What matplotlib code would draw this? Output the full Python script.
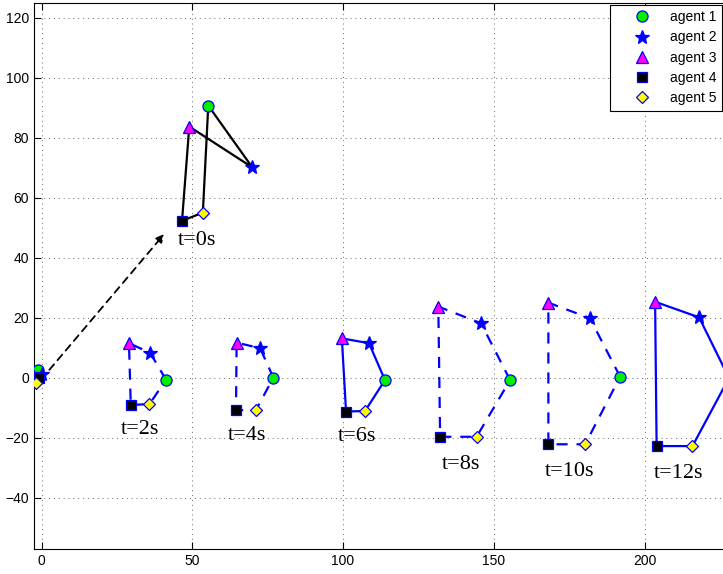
import matplotlib.pyplot as plt

# formation snapshots: t=0s, 2s, 4s, 6s, 8s, 10s, 12s
snap_labels = ["t=0s", "t=2s", "t=4s", "t=6s", "t=8s", "t=10s", "t=12s"]
snap_styles = ["solid", "dashed", "dashed", "solid", "dashed", "dashed", "solid"]
snap_colors = ["black", "blue", "blue", "blue", "blue", "blue", "blue"]
label_x = [51.5, 32.6, 68.2, 104.5, 139.0, 175.0, 211.4]
label_y = [45.8, -17.3, -19.3, -19.6, -28.7, -31.2, -31.8]

agent1_x = [55.3, 41.3, 76.9, 113.9, 155.4, 191.9, 228.0]
agent1_y = [90.8, -0.6, 0.1, -0.7, -0.7, 0.4, 0.0]
agent2_x = [69.9, 36.0, 72.5, 108.6, 145.8, 181.9, 218.1]
agent2_y = [70.2, 8.4, 9.9, 11.6, 18.2, 19.9, 20.2]
agent3_x = [49.0, 29.0, 64.7, 99.6, 131.6, 168.1, 203.5]
agent3_y = [83.8, 11.6, 11.8, 13.2, 23.8, 25.1, 25.4]
agent4_x = [46.6, 29.6, 64.5, 101.0, 132.2, 168.1, 204.0]
agent4_y = [52.4, -9.0, -10.7, -11.2, -19.6, -22.1, -22.7]
agent5_x = [53.5, 35.8, 71.1, 107.3, 144.3, 180.3, 215.9]
agent5_y = [55.1, -8.7, -10.7, -11.0, -19.6, -22.1, -22.7]

# starting positions near the origin
init_x = [-1.3, 0.0, -3.3, -1.0, -1.8]
init_y = [2.7, 1.2, 1.8, 0.0, -1.6]

xs = [agent1_x, agent2_x, agent3_x, agent4_x, agent5_x]
ys = [agent1_y, agent2_y, agent3_y, agent4_y, agent5_y]
markers = ["o", "*", "^", "s", "D"]
faces = ["#00ee00", "blue", "magenta", "black", "yellow"]
sizes = [8, 10, 8, 6.5, 6]

plt.rcParams['font.family'] = ['Liberation Sans', 'DejaVu Sans']

fig = plt.figure(figsize=(7.23, 5.74), dpi=100)
ax = fig.add_axes([0.0466, 0.0436, 0.97, 0.9512])

# arrow from the start to the first formation
ax.annotate("", xy=(41.3, 48.7), xytext=(2.0, 2.0),
            arrowprops=dict(arrowstyle="-|>", color="black", lw=1.3,
                            linestyle=(0, (4, 3)), mutation_scale=12))

for k in range(len(snap_labels)):
    px = [xs[i][k] for i in range(5)] + [xs[0][k]]
    py = [ys[i][k] for i in range(5)] + [ys[0][k]]
    ls = "-" if snap_styles[k] == "solid" else (0, (5, 4))
    ax.plot(px, py, color=snap_colors[k], linestyle=ls, lw=1.6, zorder=2)
    ax.text(label_x[k], label_y[k], snap_labels[k], ha="center", va="center",
            fontsize=16, family="Liberation Serif", zorder=4)

for i in range(5):
    ax.plot(xs[i] + [init_x[i]], ys[i] + [init_y[i]], linestyle="none",
            marker=markers[i], markersize=sizes[i], markerfacecolor=faces[i],
            markeredgecolor="blue", markeredgewidth=0.9, color="blue",
            label="agent %d" % (i + 1), zorder=3)

ax.set_xlim(-2.6, 230)
ax.set_ylim(-57, 125)
ax.set_xticks([0, 50, 100, 150, 200])
ax.set_yticks([-40, -20, 0, 20, 40, 60, 80, 100, 120])
ax.tick_params(direction="in", top=True, right=True, labelsize=10, length=5)
ax.grid(True, linestyle=(0, (1, 4)), color="black", lw=0.7, alpha=0.6)

leg = ax.legend(loc="upper right", bbox_to_anchor=(0.9985, 0.992),
                bbox_transform=fig.transFigure, fancybox=False, framealpha=1,
                edgecolor="black", fontsize=10, numpoints=1,
                borderaxespad=0, labelspacing=0.45,
                handlelength=3.8, handletextpad=0.1)
leg.get_frame().set_linewidth(0.8)

plt.savefig("out.png", dpi=100)
